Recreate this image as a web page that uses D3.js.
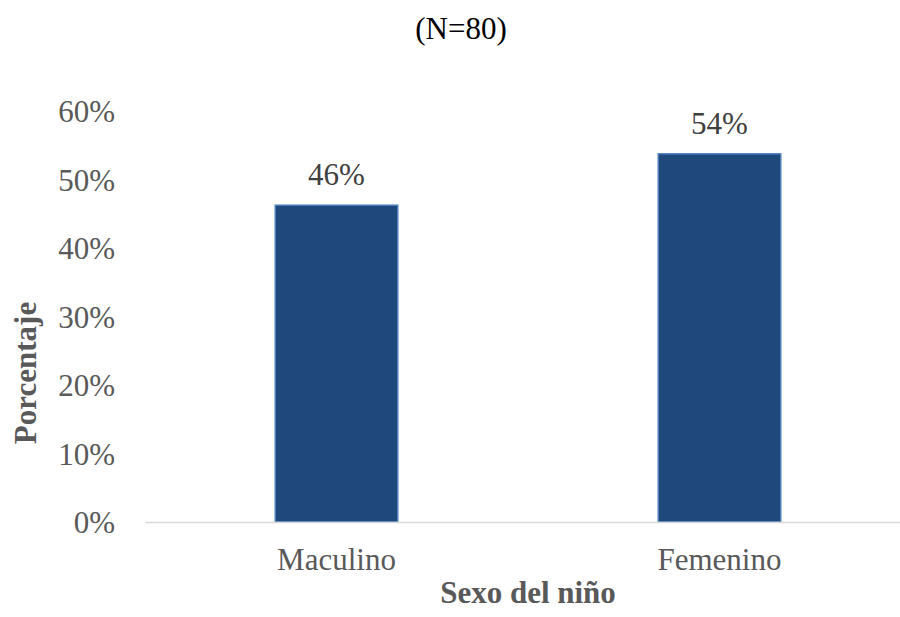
<!DOCTYPE html>
<html>
<head>
<meta charset="utf-8">
<script src="https://cdn.jsdelivr.net/npm/d3@7"></script>
<style>
  html, body { margin: 0; padding: 0; background: #ffffff; }
  svg { display: block; }
  text { font-family: "Liberation Serif", "Times New Roman", serif; }
</style>
</head>
<body>
<svg id="chart" width="900" height="617"></svg>
<script>
const categories = ["Maculino", "Femenino"];
const values = [46.25, 53.75];
const dataLabels = ["46%", "54%"];
const yTicks = [0, 10, 20, 30, 40, 50, 60];
const title = "(N=80)";
const xTitle = "Sexo del niño";
const yTitle = "Porcentaje";

const svg = d3.select("#chart");
const W = 900, H = 617;
const plot = { left: 145, right: 911, top: 111, bottom: 522 };

const x = d3.scaleBand()
  .domain(categories)
  .range([plot.left, plot.right])
  .paddingInner(0.68)
  .paddingOuter(0.34);

const y = d3.scaleLinear()
  .domain([0, 60])
  .range([plot.bottom, plot.top]);

// Title
svg.append("text")
  .attr("x", 461).attr("y", 39)
  .attr("text-anchor", "middle")
  .attr("font-size", 31)
  .attr("fill", "#000000")
  .text(title);

// Y axis (labels only)
const yAxis = d3.axisLeft(y)
  .tickValues(yTicks)
  .tickFormat(d => d + "%")
  .tickSize(0)
  .tickPadding(0);
const yg = svg.append("g")
  .attr("transform", `translate(115,0)`)
  .call(yAxis);
yg.select(".domain").remove();
yg.selectAll("text")
  .attr("font-family", "Liberation Serif, Times New Roman, serif")
  .attr("font-size", 31)
  .attr("fill", "#595959")
  .attr("dy", "0.34em");

// Bars
svg.append("g").selectAll("rect")
  .data(categories)
  .join("rect")
  .attr("x", d => x(d))
  .attr("width", x.bandwidth())
  .attr("y", (d, i) => y(values[i]))
  .attr("height", (d, i) => y(0) - y(values[i]))
  .attr("fill", "#1f497d")
  .attr("stroke", "#4f81bd")
  .attr("stroke-width", 1.5);

// X axis line
const xAxis = d3.axisBottom(x).tickSize(0).tickPadding(0);
const xg = svg.append("g")
  .attr("transform", `translate(0,${plot.bottom})`)
  .call(xAxis);
xg.select(".domain")
  .attr("stroke", "#d9d9d9")
  .attr("stroke-width", 1.5);
xg.selectAll("text")
  .attr("font-family", "Liberation Serif, Times New Roman, serif")
  .attr("font-size", 31)
  .attr("fill", "#595959")
  .attr("dy", null)
  .attr("y", 48);

// Data labels
svg.append("g").selectAll("text")
  .data(categories)
  .join("text")
  .attr("x", d => x(d) + x.bandwidth() / 2)
  .attr("y", (d, i) => y(values[i]) - 20)
  .attr("text-anchor", "middle")
  .attr("font-size", 31)
  .attr("fill", "#404040")
  .text((d, i) => dataLabels[i]);

// X title
svg.append("text")
  .attr("x", 528).attr("y", 603)
  .attr("text-anchor", "middle")
  .attr("font-size", 31)
  .attr("font-weight", "bold")
  .attr("fill", "#595959")
  .text(xTitle);

// Y title
svg.append("text")
  .attr("transform", "translate(36,373) rotate(-90)")
  .attr("text-anchor", "middle")
  .attr("font-size", 31)
  .attr("font-weight", "bold")
  .attr("fill", "#595959")
  .text(yTitle);
</script>
</body>
</html>
